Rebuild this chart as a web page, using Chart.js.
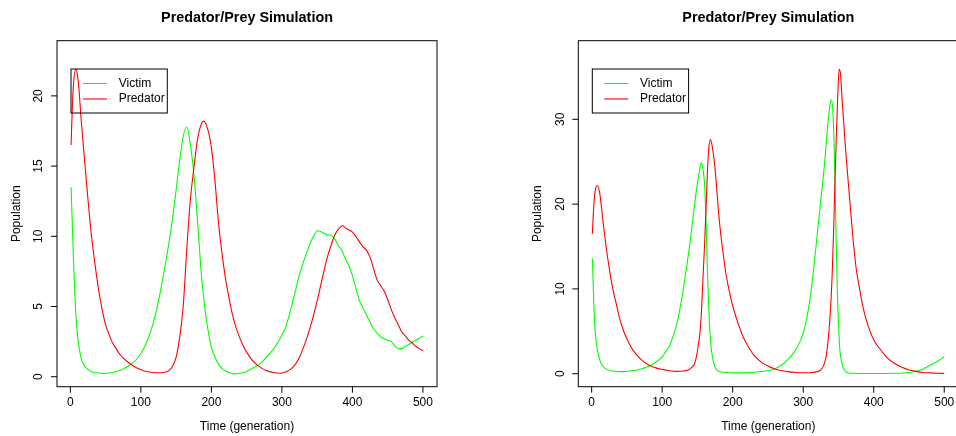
<!DOCTYPE html>
<html>
<head>
<meta charset="utf-8">
<script src="https://cdn.jsdelivr.net/npm/chart.js@4/dist/chart.umd.min.js"></script>
<style>
  html, body { margin: 0; padding: 0; background: #fff; overflow: hidden; }
  #wrap { position: relative; width: 956px; height: 436px; overflow: hidden; }
  #left { position: absolute; left: 0; top: 0; }
  #right { position: absolute; left: 478px; top: 0; }
</style>
</head>
<body>
<div id="wrap">
  <canvas id="left" width="478" height="436"></canvas>
  <canvas id="right" width="500" height="436"></canvas>
</div>
<script>
// --- Datos ---
const seriesNames = ["Victim", "Predator"];
const xTicks = [0, 100, 200, 300, 400, 500];
const yTicksLeft = [0, 5, 10, 15, 20];
const yTicksRight = [0, 10, 20, 30];

// panel izquierdo
const genVictimL = [1,3,5,7,10,13,16,20,25,30,40,47,55,65,75,85,95,105,115,120,125,130,135,140,145,150,155,160,165,170,175,180,185,190,195,200,205,210,215,220,225,232,240,250,260,270,280,290,300,305,310,315,320,325,330,335,340,345,350,355,360,365,370,375,380,385,390,395,400,405,410,415,420,425,430,435,440,445,450,455,460,465,470,475,480,485,490,495,500];
const victimL = [13.5,10.5,7.5,5.2,3.0,1.9,1.2,0.8,0.5,0.36,0.26,0.24,0.27,0.36,0.55,0.85,1.3,2.1,3.4,4.3,5.4,6.7,8.1,9.6,11.3,13.3,15.4,17.1,17.8,16.6,14.5,11.3,7.8,5.2,3.4,2.1,1.4,0.9,0.6,0.42,0.3,0.2,0.25,0.38,0.65,0.95,1.5,2.1,2.95,3.5,4.3,5.3,6.3,7.3,8.1,8.8,9.5,10.0,10.4,10.35,10.2,10.1,10.08,9.8,9.35,9.0,8.4,7.9,7.2,6.3,5.4,4.9,4.4,3.9,3.4,3.1,2.85,2.7,2.6,2.5,2.2,2.0,2.0,2.15,2.3,2.45,2.6,2.75,2.9];
const genPredatorL = [1,3,5,8,10,12,15,20,25,30,35,40,45,50,55,60,65,70,80,90,100,110,120,130,135,140,145,150,155,160,165,170,175,180,185,189,195,200,205,210,215,220,225,230,235,240,245,250,260,270,280,290,295,300,305,310,315,320,325,330,335,340,345,350,355,360,365,370,375,380,386,390,395,400,405,410,415,420,425,430,435,440,445,450,455,460,465,470,475,480,485,490,495,500];
const predatorL = [16.5,19.5,21.2,21.9,21.5,20.6,18.5,15.5,12.6,10.0,8.0,6.2,4.8,3.7,3.0,2.4,2.0,1.6,1.1,0.75,0.5,0.35,0.28,0.28,0.33,0.45,0.75,1.4,2.8,5.0,9.0,12.5,14.8,16.8,17.9,18.2,17.6,16.3,14.0,11.0,8.8,7.0,5.6,4.4,3.5,2.8,2.2,1.75,1.05,0.65,0.4,0.28,0.25,0.27,0.33,0.45,0.65,0.95,1.4,2.0,2.7,3.5,4.4,5.4,6.5,7.6,8.6,9.4,10.1,10.5,10.75,10.6,10.45,10.3,10.0,9.6,9.25,9.0,8.5,7.7,6.9,6.5,6.1,5.5,4.8,4.2,3.7,3.2,2.9,2.6,2.4,2.15,2.0,1.85];

// panel derecho
const genVictimR = [1,2,3,5,7,9,12,15,20,25,30,40,50,60,70,80,90,100,105,110,115,120,125,130,135,140,145,150,153,155.5,158,160,162,164,166,168,170,173,176,180,190,200,220,240,250,260,270,280,290,295,300,305,310,315,320,325,330,335,338,340,342,344,346,348,350,352,355,358,362,370,400,430,450,460,470,480,490,500];
const victimR = [13.6,11.0,8.3,5.0,3.4,2.5,1.5,1.0,0.6,0.42,0.32,0.25,0.27,0.38,0.55,0.85,1.3,2.0,2.6,3.2,4.3,5.6,7.6,10.0,12.8,15.8,19.3,22.5,24.0,24.9,24.0,22.5,18.5,12.5,8.0,4.6,2.7,1.3,0.6,0.3,0.15,0.1,0.1,0.25,0.35,0.6,1.05,1.8,2.9,3.7,4.8,6.5,9.0,12.5,16.5,20.5,24.5,29.5,31.7,32.3,31.0,26.5,19.0,11.0,6.0,2.8,1.2,0.5,0.15,0.05,0.02,0.05,0.15,0.3,0.55,1.0,1.45,2.0];
const genPredatorR = [1,3,5,8,11,13,15,17,20,25,30,35,40,45,50,55,60,70,80,90,100,110,120,130,137,142,146,149,152,154,156,158,160,162,164,166,168.5,171,174,177,180,183,186,190,195,200,205,210,215,220,225,230,240,250,260,270,280,290,300,310,320,325,330,333,336,339,341,343,345,347,349,351,353,355,358,361,365,370,375,380,385,390,400,410,420,430,440,450,460,470,480,490,500];
const predatorR = [16.5,19.8,21.6,22.2,21.5,20.3,18.8,17.3,15.3,12.4,10.0,8.2,6.4,5.1,4.1,3.3,2.6,1.7,1.05,0.72,0.5,0.36,0.28,0.32,0.45,0.75,1.2,2.2,3.8,5.2,7.8,11.5,15.0,19.0,23.5,26.5,27.6,26.8,25.0,22.2,19.0,16.5,14.5,12.0,9.8,8.0,6.6,5.4,4.3,3.5,2.8,2.2,1.4,0.9,0.55,0.35,0.22,0.15,0.12,0.12,0.25,0.45,1.2,2.3,4.5,8.0,11.5,16.5,22.5,28.0,32.8,35.9,35.3,32.5,29.0,25.5,21.5,16.5,12.5,10.0,7.8,6.2,4.0,2.8,1.8,1.2,0.75,0.45,0.28,0.15,0.1,0.06,0.03];

const mainTitle = "Predator/Prey Simulation";
const xTitle = "Time (generation)";
const yTitle = "Population";
const colors = ["#00ff00", "#ff0000"];
const FONT = "'Liberation Sans', Arial, Helvetica, sans-serif";
const LINE_W = 1.1;

// --- Ejes, titulo y leyenda al estilo R ---
const rBase = {
  id: "rBase",
  afterDraw(chart, args, o) {
    const { ctx, chartArea: a, scales: { x, y } } = chart;
    ctx.save();
    ctx.strokeStyle = "#000";
    ctx.fillStyle = "#000";
    ctx.lineWidth = 1;
    ctx.strokeRect(a.left, a.top, a.right - a.left, a.bottom - a.top);

    // marcas
    ctx.beginPath();
    xTicks.forEach(v => {
      const px = x.getPixelForValue(v);
      ctx.moveTo(px, a.bottom);
      ctx.lineTo(px, a.bottom + 6);
    });
    o.yTicks.forEach(v => {
      const py = y.getPixelForValue(v);
      ctx.moveTo(a.left, py);
      ctx.lineTo(a.left - 6, py);
    });
    ctx.stroke();

    ctx.font = "12px " + FONT;
    ctx.textAlign = "center";
    ctx.textBaseline = "middle";
    xTicks.forEach(v => ctx.fillText(String(v), x.getPixelForValue(v), a.bottom + 16));
    ctx.fillText(xTitle, (a.left + a.right) / 2, a.bottom + 39.5);
    o.yTicks.forEach(v => {
      ctx.save();
      ctx.translate(a.left - 18, y.getPixelForValue(v));
      ctx.rotate(-Math.PI / 2);
      ctx.fillText(String(v), 0, 0);
      ctx.restore();
    });
    ctx.save();
    ctx.translate(a.left - 40.3, (a.top + a.bottom) / 2);
    ctx.rotate(-Math.PI / 2);
    ctx.fillText(yTitle, 0, 0);
    ctx.restore();

    ctx.font = "bold 14.4px " + FONT;
    ctx.fillText(mainTitle, (a.left + a.right) / 2, a.top - 22.5);

    // leyenda (sin fondo, como en R con las curvas detras)
    const lx = a.left + 14, ly = a.top + 28.3;
    ctx.strokeStyle = "#000";
    ctx.strokeRect(lx, ly, 96.3, 44);
    ctx.font = "12px " + FONT;
    ctx.textAlign = "left";
    ctx.lineWidth = LINE_W;
    chart.data.datasets.slice().sort((p, q) => p.legendIndex - q.legendIndex).forEach((ds, i) => {
      const yy = ly + 14.5 + i * 15.5;
      ctx.strokeStyle = ds.borderColor;
      ctx.beginPath();
      ctx.moveTo(lx + 12, yy);
      ctx.lineTo(lx + 36, yy);
      ctx.stroke();
      ctx.fillStyle = "#000";
      ctx.fillText(ds.label, lx + 47.7, yy);
    });
    ctx.restore();
  }
};

function toPoints(gen, vals) {
  return gen.map((g, i) => ({ x: g, y: vals[i] }));
}

function makeChart(id, victim, predator, yMin, yMax, yTicks, padding) {
  return new Chart(document.getElementById(id), {
    type: "line",
    data: {
      datasets: [
        { label: seriesNames[0], data: victim, borderColor: colors[0], order: 1, legendIndex: 0 },
        { label: seriesNames[1], data: predator, borderColor: colors[1], order: 0, legendIndex: 1 }
      ]
    },
    options: {
      responsive: false,
      animation: false,
      layout: { padding },
      elements: {
        point: { radius: 0 },
        line: { borderWidth: LINE_W, cubicInterpolationMode: "monotone", fill: false }
      },
      scales: {
        x: { type: "linear", min: -18.96, max: 519.96, display: false },
        y: { type: "linear", min: yMin, max: yMax, display: false }
      },
      plugins: {
        legend: { display: false },
        tooltip: { enabled: false },
        rBase: { yTicks }
      }
    },
    plugins: [rBase]
  });
}

makeChart("left", toPoints(genVictimL, victimL), toPoints(genPredatorL, predatorL),
  -0.71, 23.93, yTicksLeft, { left: 57, right: 41, top: 40.7, bottom: 49.3 });
makeChart("right", toPoints(genVictimR, victimR), toPoints(genPredatorR, predatorR),
  -1.53, 39.27, yTicksRight, { left: 100.3, right: 19.7, top: 40.7, bottom: 49.3 });
</script>
</body>
</html>
